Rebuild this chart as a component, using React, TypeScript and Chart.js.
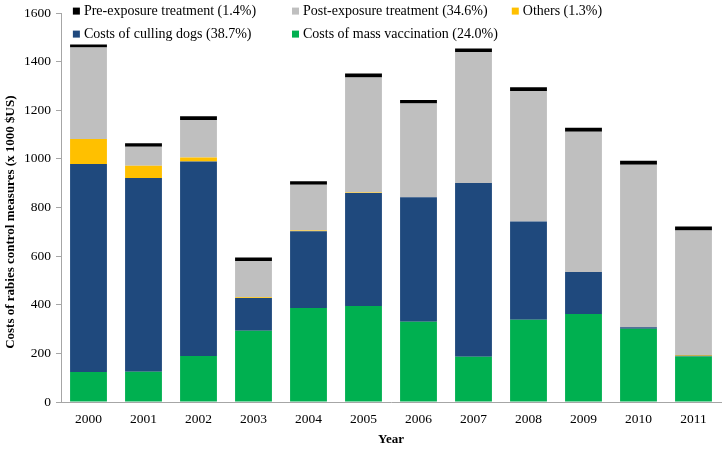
import React, { useEffect, useRef } from 'react';
import { Chart, registerables } from 'chart.js';

Chart.register(...registerables);

const years = ['2000', '2001', '2002', '2003', '2004', '2005', '2006', '2007', '2008', '2009', '2010', '2011'];
const massVaccination = [123, 124, 189, 293, 387, 395, 330, 186, 338, 362, 301, 187];
const cullingDogs = [856, 798, 800, 135, 316, 465, 512, 715, 405, 173, 7, 3];
const others = [103, 50, 17, 3, 3, 2, 0, 0, 0, 0, 0, 3];
const postExposure = [376, 78, 154, 149, 188, 473, 386, 538, 536, 577, 668, 513];
const preExposure = [13, 15, 16, 15, 14, 17, 14, 15, 16, 16, 17, 16];

const seriesLabels = [
  'Costs of mass vaccination (24.0%)',
  'Costs of culling dogs (38.7%)',
  'Others (1.3%)',
  'Post-exposure treatment (34.6%)',
  'Pre-exposure treatment (1.4%)',
];
const seriesColors = ['#00b050', '#1f497d', '#ffc000', '#bfbfbf', '#000000'];

const yTitle = 'Costs of rabies control measures (x 1000 $US)';
const xTitle = 'Year';
const FONT = '"Liberation Serif", "Times New Roman", serif';

// Legend arranged in columns like the original (dataset index, row, column)
const legendLayout: Array<[number, number, number]> = [
  [4, 0, 0],
  [3, 0, 1],
  [2, 0, 2],
  [1, 1, 0],
  [0, 1, 1],
];

const gridLegend = {
  id: 'gridLegend',
  afterDraw(chart: any) {
    const { ctx, chartArea } = chart;
    const w = chartArea.right - chartArea.left;
    const colX = [0.018, 0.35, 0.683];
    const rowY = [chartArea.top - 2, chartArea.top + 21];
    ctx.save();
    ctx.font = `14px ${FONT}`;
    ctx.textBaseline = 'middle';
    ctx.textAlign = 'left';
    legendLayout.forEach(([di, r, c]) => {
      const ds = chart.data.datasets[di];
      const x = chartArea.left + colX[c] * w;
      const y = rowY[r];
      ctx.fillStyle = ds.backgroundColor;
      ctx.fillRect(x, y - 3.5, 7, 7);
      ctx.fillStyle = '#000';
      ctx.fillText(ds.label, x + 11, y);
    });
    ctx.restore();
  },
};

export default function App() {
  const ref = useRef<HTMLCanvasElement>(null);

  useEffect(() => {
    document.body.style.margin = '0';
    const values = [massVaccination, cullingDogs, others, postExposure, preExposure];
    const chart = new Chart(ref.current!, {
      type: 'bar',
      data: {
        labels: years,
        datasets: values.map((v, i) => ({
          label: seriesLabels[i],
          data: v,
          backgroundColor: seriesColors[i],
          borderWidth: 0,
          categoryPercentage: 1,
          barPercentage: 0.67,
        })),
      },
      options: {
        responsive: false,
        animation: false,
        layout: { padding: { top: 12, right: 4, left: 0, bottom: 0 } },
        plugins: {
          legend: { display: false },
          tooltip: { enabled: false },
        },
        scales: {
          x: {
            stacked: true,
            grid: { display: false, drawTicks: false },
            border: { display: true, color: '#a6a6a6', width: 1 },
            ticks: { color: '#000', font: { family: FONT, size: 13.5 }, padding: 9 },
            title: {
              display: true,
              text: xTitle,
              color: '#000',
              font: { family: FONT, size: 13, weight: 'bold' },
              padding: { top: 0, bottom: 9 },
            },
            afterFit: (s: any) => {
              s.height = 54;
            },
          },
          y: {
            stacked: true,
            min: 0,
            max: 1600,
            ticks: {
              stepSize: 200,
              color: '#000',
              font: { family: FONT, size: 13.5 },
              padding: 5,
              callback: (v: any) => String(v),
            },
            grid: { drawOnChartArea: false, drawTicks: true, tickLength: 5, color: '#a6a6a6' },
            border: { display: true, color: '#a6a6a6', width: 1 },
            title: {
              display: true,
              text: yTitle + '         ',
              color: '#000',
              font: { family: FONT, size: 13, weight: 'bold' },
              padding: { top: 3, bottom: 0 },
            },
            afterFit: (s: any) => {
              s.width = 61;
            },
          },
        },
      },
      plugins: [gridLegend],
    });
    return () => chart.destroy();
  }, []);

  return (
    <div style={{ width: 725, height: 456 }}>
      <canvas ref={ref} width={725} height={456} style={{ display: 'block' }} />
    </div>
  );
}
